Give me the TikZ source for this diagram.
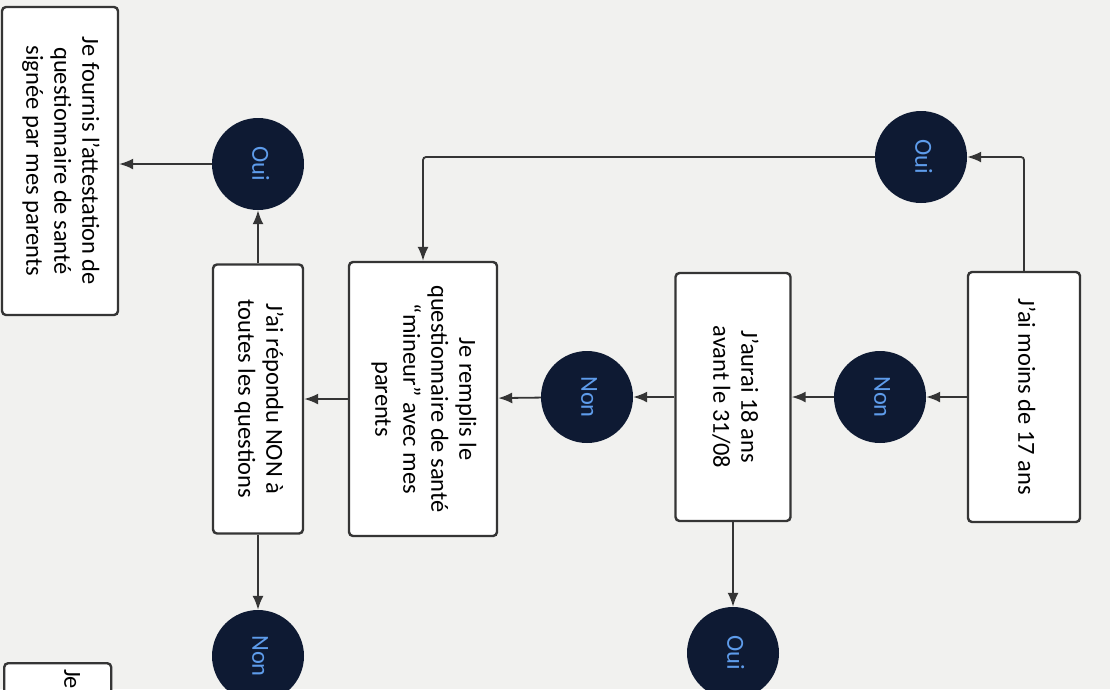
\documentclass[tikz,border=0pt]{standalone}
\usepackage{fontspec}
\setmainfont{Carlito}
\usetikzlibrary{arrows.meta}

\definecolor{linegray}{HTML}{353535}
\definecolor{bubble}{HTML}{0E1A33}
\definecolor{bubbletext}{HTML}{5E9CEB}
\definecolor{paper}{HTML}{F1F1EF}

% text turned a quarter clockwise
\newcommand{\vtext}[1]{\rotatebox{-90}{\begin{tabular}{@{}c@{}}#1\end{tabular}}}

\tikzset{
  stepbox/.style={draw=linegray, line width=2.4pt, rounded corners=4pt, fill=white, inner sep=0pt},
  answer/.style={circle, fill=bubble, text=bubbletext, minimum size=92pt, inner sep=0pt},
  flow/.style={draw=linegray, line width=1.8pt, rounded corners=3pt, -{Latex[length=14pt,width=11pt]}},
}

\begin{document}
\begin{tikzpicture}[x=1pt, y=-1pt, font=\fontsize{24.5}{28}\selectfont]
  \useasboundingbox (0,0) rectangle (1110,689);
  \clip (0,0) rectangle (1110,689);
  \fill[paper] (0,0) rectangle (1110,689);

  % questions and steps
  \node[stepbox, minimum width=112pt, minimum height=250pt] (age17) at (1024,397) {\vtext{J'ai moins de 17 ans}};
  \node[stepbox, minimum width=115pt, minimum height=248pt] (age18) at (733,397) {\vtext{J'aurai 18 ans\\avant le 31/08}};
  \node[stepbox, minimum width=148pt, minimum height=274pt] (form) at (423,399) {\vtext{Je remplis le\\questionnaire de santé\\“mineur” avec mes\\parents}};
  \node[stepbox, minimum width=90pt, minimum height=269pt] (answers) at (258,399) {\vtext{J'ai répondu NON à\\toutes les questions}};
  \node[stepbox, minimum width=116pt, minimum height=308pt] (certif) at (60,161) {\vtext{Je fournis l'attestation de\\questionnaire de santé\\signée par mes parents}};
  \node[stepbox, minimum width=107pt, minimum height=200pt, anchor=north west] (nextstep) at (3,662) {};
  \node (nextlabel) at (70,679) {\vtext{Je}};

  % answers
  \node[answer] (yes17) at (921,157) {\vtext{Oui}};
  \node[answer] (no17) at (880,397) {\vtext{Non}};
  \node[answer] (no18) at (587,397) {\vtext{Non}};
  \node[answer] (yes18) at (733,653) {\vtext{Oui}};
  \node[answer] (yesall) at (258,164) {\vtext{Oui}};
  \node[answer] (noall) at (258,656) {\vtext{Non}};

  % links
  \draw[flow] (age17.north) |- (yes17);
  \draw[flow] (yes17) -| (form.north);
  \draw[flow] (age17) -- (no17);
  \draw[flow] (no17) -- (age18);
  \draw[flow] (age18) -- (no18);
  \draw[flow] (age18) -- (yes18);
  \draw[flow] (no18) -- (form);
  \draw[flow] (form) -- (answers);
  \draw[flow] (answers) -- (yesall);
  \draw[flow] (yesall) -- (yesall -| certif.east);
  \draw[flow] (answers) -- (noall);
\end{tikzpicture}
\end{document}
